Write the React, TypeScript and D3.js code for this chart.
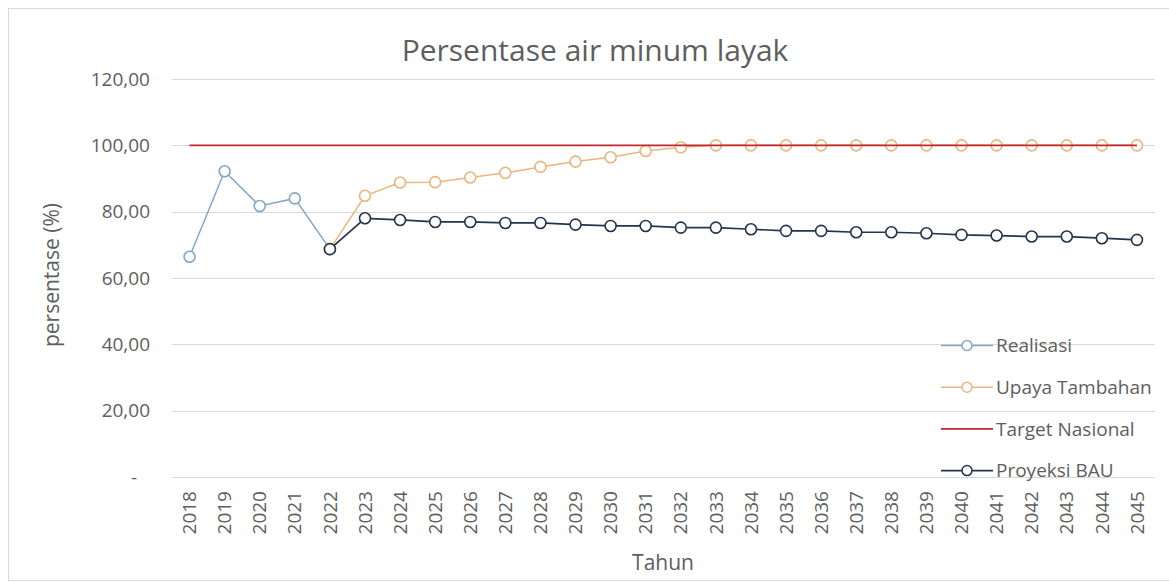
import React from "react";
import * as d3 from "d3";

// Tahun (x categories)
const years = [
  "2018", "2019", "2020", "2021", "2022", "2023", "2024", "2025", "2026", "2027",
  "2028", "2029", "2030", "2031", "2032", "2033", "2034", "2035", "2036", "2037",
  "2038", "2039", "2040", "2041", "2042", "2043", "2044", "2045",
];

// Series values (null = no value for that year)
const realisasi: (number | null)[] = [
  66.4, 92.2, 81.7, 84.0, 68.7,
  null, null, null, null, null, null, null, null, null, null, null, null, null,
  null, null, null, null, null, null, null, null, null, null,
];

const upayaTambahan: (number | null)[] = [
  null, null, null, null, 68.7, 84.8, 88.8, 88.9, 90.3, 91.7,
  93.5, 95.1, 96.4, 98.3, 99.4, 100, 100, 100, 100, 100,
  100, 100, 100, 100, 100, 100, 100, 100,
];

const targetNasional: (number | null)[] = [
  100, 100, 100, 100, 100, 100, 100, 100, 100, 100,
  100, 100, 100, 100, 100, 100, 100, 100, 100, 100,
  100, 100, 100, 100, 100, 100, 100, 100,
];

const proyeksiBAU: (number | null)[] = [
  null, null, null, null, 68.7, 78.0, 77.5, 76.9, 76.9, 76.6,
  76.6, 76.1, 75.7, 75.7, 75.2, 75.2, 74.7, 74.2, 74.2, 73.8,
  73.8, 73.5, 73.0, 72.8, 72.5, 72.5, 72.0, 71.5,
];

const yTicks = [0, 20, 40, 60, 80, 100, 120];
const yTickLabels = ["-", "20,00", "40,00", "60,00", "80,00", "100,00", "120,00"];

const seriesNames = ["Realisasi", "Upaya Tambahan", "Target Nasional", "Proyeksi BAU"];

type Series = {
  name: string;
  values: (number | null)[];
  color: string;
  marker: boolean;
  width: number;
};

const series: Series[] = [
  { name: seriesNames[0], values: realisasi, color: "#82a8c9", marker: true, width: 1.5 },
  { name: seriesNames[1], values: upayaTambahan, color: "#e9b67d", marker: true, width: 1.5 },
  { name: seriesNames[2], values: targetNasional, color: "#c0282d", marker: false, width: 1.8 },
  { name: seriesNames[3], values: proyeksiBAU, color: "#22344f", marker: true, width: 1.7 },
];

const W = 1169;
const H = 583;
const FONT = "'Open Sans', 'DejaVu Sans', sans-serif";
const TEXT = "#5e5e5e";
const GRID = "#d9d9d9";

export default function App() {
  const plot = { left: 172, right: 1154.5, top: 79, bottom: 477 };

  const x = d3.scaleBand<string>().domain(years).range([plot.left, plot.right]).padding(0);
  const cx = (yr: string) => (x(yr) as number) + x.bandwidth() / 2;
  const y = d3.scaleLinear().domain([0, 120]).range([plot.bottom, plot.top]);

  const line = d3
    .line<{ yr: string; v: number | null }>()
    .defined((d) => d.v !== null)
    .x((d) => cx(d.yr))
    .y((d) => y(d.v as number));

  const legendX = 941;
  const legendLineW = 52;
  const legendY0 = 345.5;
  const legendStep = 41.7;

  return (
    <div style={{ position: "absolute", left: 0, top: 0 }}>
      <svg width={W} height={H} style={{ display: "block", background: "#fff" }}>
        {/* chart frame */}
        <rect x={8.5} y={8.5} width={W + 10} height={572} fill="#fff" stroke="#d9d9d9" strokeWidth={1} />

        {/* title */}
        <text x={595} y={61} textAnchor="middle" fontFamily={FONT} fontSize={30} fill={TEXT}>
          Persentase air minum layak
        </text>

        {/* horizontal gridlines */}
        {yTicks.map((t) => (
          <line
            key={"g" + t}
            x1={plot.left}
            x2={plot.right}
            y1={Math.round(y(t)) + 0.5}
            y2={Math.round(y(t)) + 0.5}
            stroke={GRID}
            strokeWidth={1.2}
          />
        ))}

        {/* y tick labels */}
        {yTicks.map((t, i) => (
          <text
            key={"yl" + t}
            x={150}
            dx={t === 0 ? -13 : 0}
            y={y(t)}
            dy="0.35em"
            textAnchor="end"
            fontFamily={FONT}
            fontSize={19}
            fill={TEXT}
          >
            {yTickLabels[i]}
          </text>
        ))}

        {/* y axis title */}
        <text
          transform={`translate(52, ${(plot.top + plot.bottom) / 2 - 3}) rotate(-90)`}
          textAnchor="middle"
          dy="0.35em"
          fontFamily={FONT}
          fontSize={21}
          fill={TEXT}
        >
          persentase (%)
        </text>

        {/* x tick labels */}
        {years.map((yr) => (
          <text
            key={"xl" + yr}
            transform={`translate(${cx(yr)}, ${plot.bottom + 14}) rotate(-90)`}
            textAnchor="end"
            dy="0.35em"
            fontFamily={FONT}
            fontSize={19}
            fill={TEXT}
          >
            {yr}
          </text>
        ))}

        {/* x axis title */}
        <text x={663} y={570} textAnchor="middle" fontFamily={FONT} fontSize={21} fill={TEXT}>
          Tahun
        </text>

        {/* series */}
        {series.map((s) => {
          const pts = years.map((yr, i) => ({ yr, v: s.values[i] }));
          return (
            <g key={s.name}>
              <path d={line(pts) || ""} fill="none" stroke={s.color} strokeWidth={s.width} />
              {s.marker &&
                pts
                  .filter((p) => p.v !== null)
                  .map((p) => (
                    <circle
                      key={p.yr}
                      cx={cx(p.yr)}
                      cy={y(p.v as number)}
                      r={5.5}
                      fill="#fff"
                      stroke={s.color}
                      strokeWidth={1.6}
                    />
                  ))}
            </g>
          );
        })}

        {/* legend */}
        {series.map((s, i) => {
          const ly = legendY0 + i * legendStep;
          return (
            <g key={"lg" + s.name}>
              <line x1={legendX} x2={legendX + legendLineW} y1={ly} y2={ly} stroke={s.color} strokeWidth={s.width} />
              {s.marker && (
                <circle cx={legendX + legendLineW / 2} cy={ly} r={5} fill="#fff" stroke={s.color} strokeWidth={1.5} />
              )}
              <text
                x={legendX + legendLineW + 3}
                y={ly}
                dy="0.35em"
                fontFamily={FONT}
                fontSize={19}
                fill={TEXT}
              >
                {s.name}
              </text>
            </g>
          );
        })}
      </svg>
    </div>
  );
}
